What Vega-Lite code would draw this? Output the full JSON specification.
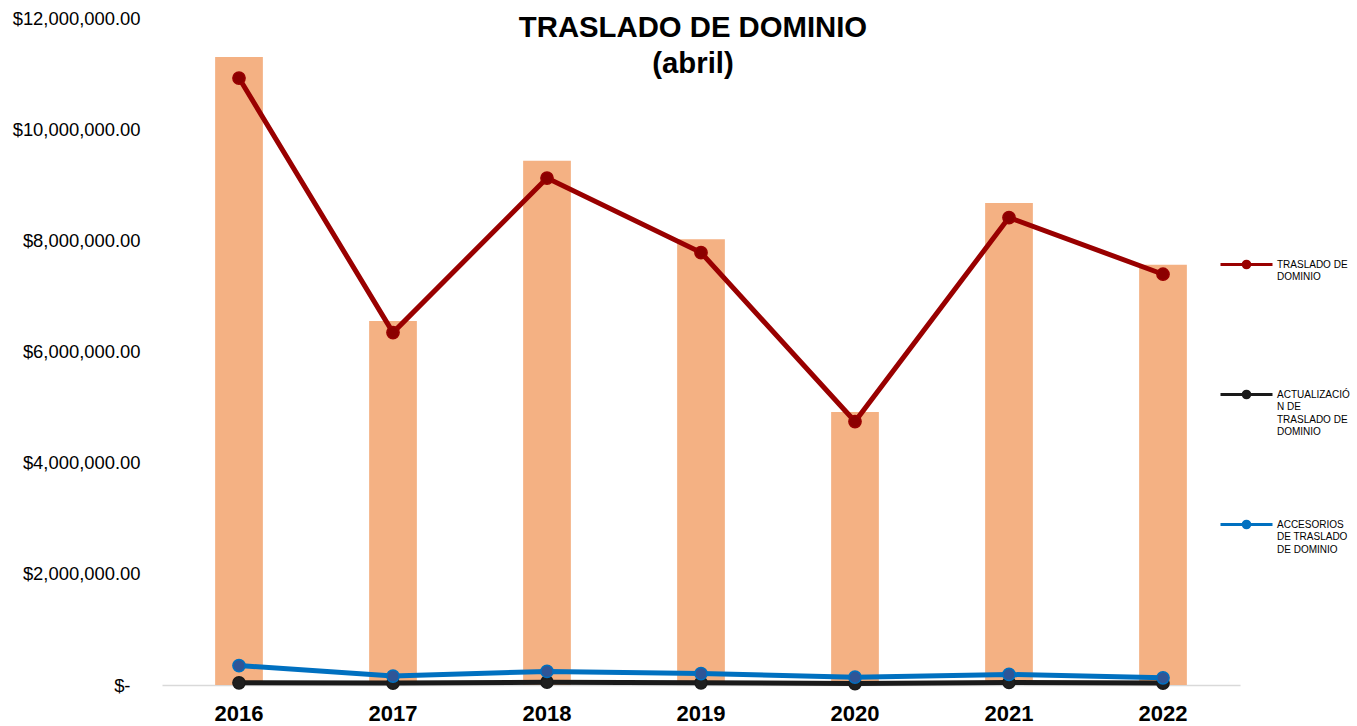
{
  "$schema": "https://vega.github.io/schema/vega-lite/v6.json",
  "width": 1078,
  "height": 667,
  "autosize": "none",
  "padding": {"left": 162, "top": 18, "right": 117, "bottom": 41},
  "background": "white",
  "config": {"view": {"stroke": null}, "font": "Liberation Sans"},
  "title": {
    "text": ["TRASLADO DE DOMINIO", "(abril)"],
    "fontSize": 29.3,
    "font": "Liberation Sans",
    "fontWeight": "bold",
    "color": "black",
    "anchor": "middle",
    "dx": -8,
    "lineHeight": 36.6,
    "baseline": "alphabetic",
    "offset": -93.5
  },
  "datasets": {
    "total": [
      {"year": "2016", "total": 11300000},
      {"year": "2017", "total": 6550000},
      {"year": "2018", "total": 9430000},
      {"year": "2019", "total": 8020000},
      {"year": "2020", "total": 4910000},
      {"year": "2021", "total": 8670000},
      {"year": "2022", "total": 7560000}
    ],
    "series": [
      {"year": "2016", "serie": "ACTUALIZACIÓN DE TRASLADO DE DOMINIO", "value": 40000},
      {"year": "2017", "serie": "ACTUALIZACIÓN DE TRASLADO DE DOMINIO", "value": 35000},
      {"year": "2018", "serie": "ACTUALIZACIÓN DE TRASLADO DE DOMINIO", "value": 50000},
      {"year": "2019", "serie": "ACTUALIZACIÓN DE TRASLADO DE DOMINIO", "value": 40000},
      {"year": "2020", "serie": "ACTUALIZACIÓN DE TRASLADO DE DOMINIO", "value": 25000},
      {"year": "2021", "serie": "ACTUALIZACIÓN DE TRASLADO DE DOMINIO", "value": 45000},
      {"year": "2022", "serie": "ACTUALIZACIÓN DE TRASLADO DE DOMINIO", "value": 35000},
      {"year": "2016", "serie": "ACCESORIOS DE TRASLADO DE DOMINIO", "value": 350000},
      {"year": "2017", "serie": "ACCESORIOS DE TRASLADO DE DOMINIO", "value": 160000},
      {"year": "2018", "serie": "ACCESORIOS DE TRASLADO DE DOMINIO", "value": 245000},
      {"year": "2019", "serie": "ACCESORIOS DE TRASLADO DE DOMINIO", "value": 205000},
      {"year": "2020", "serie": "ACCESORIOS DE TRASLADO DE DOMINIO", "value": 140000},
      {"year": "2021", "serie": "ACCESORIOS DE TRASLADO DE DOMINIO", "value": 190000},
      {"year": "2022", "serie": "ACCESORIOS DE TRASLADO DE DOMINIO", "value": 130000},
      {"year": "2016", "serie": "TRASLADO DE DOMINIO", "value": 10920000},
      {"year": "2017", "serie": "TRASLADO DE DOMINIO", "value": 6340000},
      {"year": "2018", "serie": "TRASLADO DE DOMINIO", "value": 9120000},
      {"year": "2019", "serie": "TRASLADO DE DOMINIO", "value": 7780000},
      {"year": "2020", "serie": "TRASLADO DE DOMINIO", "value": 4740000},
      {"year": "2021", "serie": "TRASLADO DE DOMINIO", "value": 8410000},
      {"year": "2022", "serie": "TRASLADO DE DOMINIO", "value": 7390000}
    ]
  },
  "encoding": {
    "x": {
      "field": "year",
      "type": "nominal",
      "scale": {"paddingInner": 0, "paddingOuter": 0},
      "axis": {
        "title": null,
        "labelAngle": 0,
        "ticks": false,
        "domainColor": "#D9D9D9",
        "domainWidth": 1.5,
        "labelFontSize": 22,
        "labelFontWeight": "bold",
        "labelFont": "Liberation Sans",
        "labelColor": "black",
        "labelPadding": 18
      }
    },
    "y": {
      "type": "quantitative",
      "scale": {"domain": [0, 12000000], "nice": false},
      "axis": {
        "title": null,
        "grid": false,
        "domain": false,
        "ticks": false,
        "values": [0, 2000000, 4000000, 6000000, 8000000, 10000000, 12000000],
        "labelExpr": "datum.value == 0 ? '$-' : '$' + format(datum.value, ',.2f')",
        "labelFontSize": 18.4,
        "labelFont": "Liberation Sans",
        "labelColor": "black",
        "labelPadding": {"condition": {"test": "datum.value == 0", "value": 32}, "value": 22},
        "labelFlush": false,
        "labelOverlap": false
      }
    }
  },
  "layer": [
    {
      "data": {"name": "total"},
      "mark": {"type": "bar", "color": "#F4B183", "width": {"band": 0.31}},
      "encoding": {"y": {"field": "total"}}
    },
    {
      "data": {"name": "series"},
      "mark": {"type": "line", "strokeWidth": 5},
      "encoding": {
        "y": {"field": "value"},
        "color": {
          "field": "serie",
          "type": "nominal",
          "sort": null,
          "scale": {
            "domain": ["TRASLADO DE DOMINIO", "ACTUALIZACIÓN DE TRASLADO DE DOMINIO", "ACCESORIOS DE TRASLADO DE DOMINIO"],
            "range": ["#990000", "#1A1A1A", "#0070C0"]
          },
          "legend": {
            "orient": "none",
            "legendX": 1057,
            "legendY": 219,
            "title": null,
            "padding": 0,
            "gridAlign": "all",
            "symbolType": "M-1,0H1M0.127,0A0.127,0.127,0,1,1,-0.127,0A0.127,0.127,0,1,1,0.127,0Z",
            "symbolSize": 2704,
            "symbolStrokeWidth": 3,
            "labelFont": "Liberation Sans",
            "labelFontSize": 10,
            "labelColor": "black",
            "labelOffset": 3,
            "labelLimit": 0,
            "labelBaseline": "middle",
            "rowPadding": 60,
            "labelExpr": "datum.label == 'TRASLADO DE DOMINIO' ? ['TRASLADO DE', 'DOMINIO'] : datum.label == 'ACCESORIOS DE TRASLADO DE DOMINIO' ? ['ACCESORIOS', 'DE TRASLADO', 'DE DOMINIO'] : ['ACTUALIZACIÓ', 'N DE', 'TRASLADO DE', 'DOMINIO']",
            "encode": {
              "symbols": {"update": {"fill": {"scale": "color", "field": "value"}, "fillOpacity": {"value": 1}, "opacity": {"value": 1}}},
              "labels": {"update": {"lineHeight": {"value": 12.5}}}
            }
          }
        }
      }
    },
    {
      "data": {"name": "series"},
      "mark": {"type": "point", "shape": "circle", "filled": true, "size": 150, "opacity": 1, "strokeWidth": 1.5},
      "encoding": {
        "y": {"field": "value"},
        "fill": {
          "field": "serie",
          "type": "nominal",
          "scale": {
            "domain": ["TRASLADO DE DOMINIO", "ACTUALIZACIÓN DE TRASLADO DE DOMINIO", "ACCESORIOS DE TRASLADO DE DOMINIO"],
            "range": ["#8B0000", "#1F1F1F", "#2F5597"]
          },
          "legend": null
        },
        "stroke": {
          "field": "serie",
          "type": "nominal",
          "scale": {
            "domain": ["TRASLADO DE DOMINIO", "ACTUALIZACIÓN DE TRASLADO DE DOMINIO", "ACCESORIOS DE TRASLADO DE DOMINIO"],
            "range": ["#990000", "#1A1A1A", "#0070C0"]
          },
          "legend": null
        }
      }
    }
  ]
}
